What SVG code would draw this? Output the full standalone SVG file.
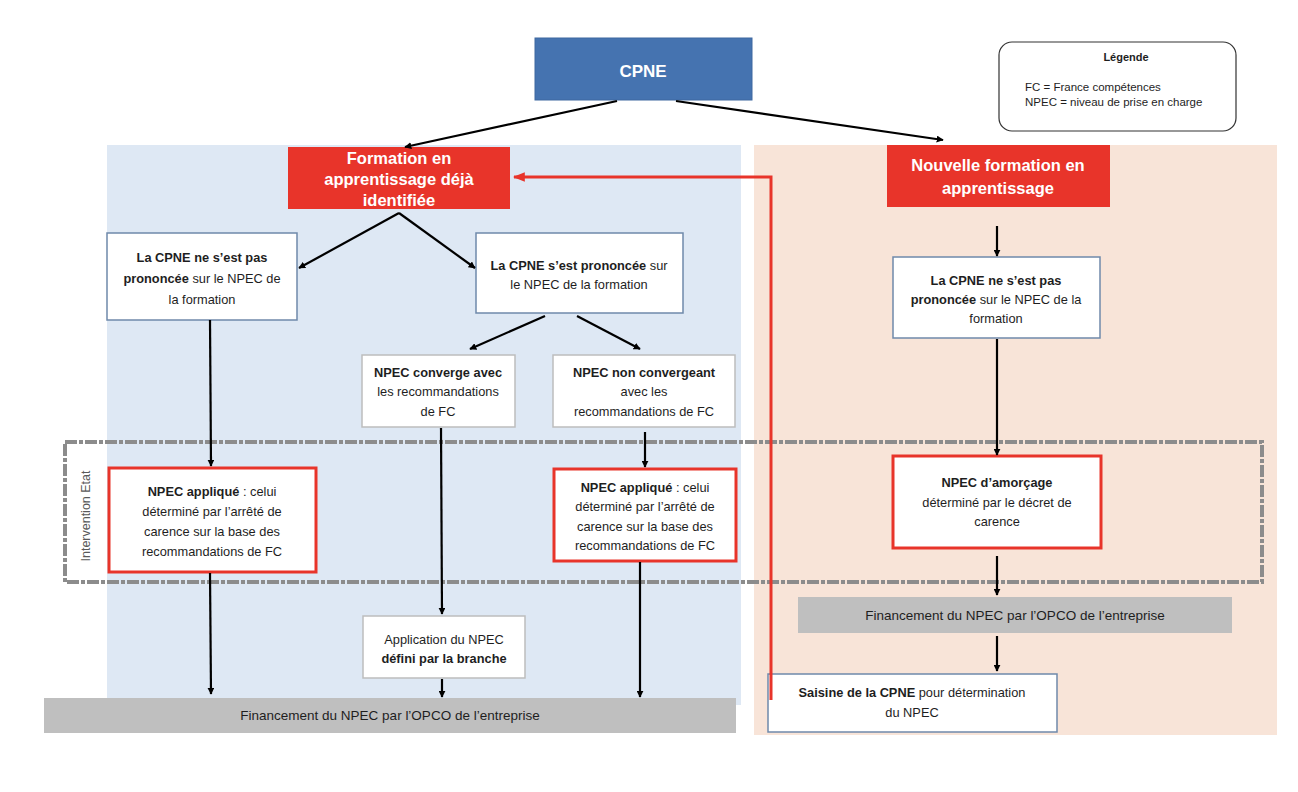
<svg xmlns="http://www.w3.org/2000/svg" width="1298" height="792" viewBox="0 0 1298 792">
<defs>
<marker id="ah" viewBox="0 0 10 10" refX="9" refY="5" markerWidth="7" markerHeight="7" markerUnits="userSpaceOnUse" orient="auto"><path d="M0,0 L10,5 L0,10 z" fill="#000"/></marker>
<marker id="ahr" viewBox="0 0 10 10" refX="9" refY="5" markerWidth="12" markerHeight="12" markerUnits="userSpaceOnUse" orient="auto"><path d="M0,1 L10,5 L0,9 z" fill="#e8342a"/></marker>
<style>
text{font-family:"Liberation Sans",Arial,sans-serif;fill:#1e1e1e;}
.t{font-size:12.8px;text-anchor:middle;}
.b{font-weight:bold;}
.w{fill:#fff;font-weight:bold;text-anchor:middle;font-size:16.5px;}
.box{fill:#fff;stroke:#6f89aa;stroke-width:1.5;}
.gbox{fill:#fff;stroke:#bdbdbd;stroke-width:1.5;}
.rbox{fill:#fff;stroke:#e8342a;stroke-width:3;}
.red{fill:#e8342a;}
.gray{fill:#bfbfbf;}
.g{font-size:13.5px;text-anchor:middle;}
.c{stroke:#000;stroke-width:2.2;fill:none;marker-end:url(#ah);}
</style>
</defs>
<rect width="1298" height="792" fill="#fff"/>
<g id="panels">
<rect x="107" y="145" width="634" height="560" fill="#dee8f4"/>
<rect x="754" y="145" width="523" height="590" fill="#f8e4d8"/>
</g>
<g id="legend">
<rect x="999" y="42" width="237" height="89" rx="13" fill="#fff" stroke="#333" stroke-width="1.2"/>
<text x="1126" y="61" class="b" font-size="11" text-anchor="middle">Légende</text>
<text x="1025" y="91" font-size="11.5">FC = France compétences</text>
<text x="1025" y="106" font-size="11.5">NPEC = niveau de prise en charge</text>
</g>
<g id="intervention">
<rect x="65" y="442" width="1197" height="140" fill="none" stroke="#8c8c8c" stroke-width="4" stroke-dasharray="12 2 4 2"/>
<text transform="translate(90,516) rotate(-90)" font-size="12.5" text-anchor="middle" style="fill:#595959">Intervention Etat</text>
</g>
<g id="cpne">
<rect x="535" y="38" width="217" height="62" fill="#4573b0" stroke="#3f68a0"/>
<text x="643" y="77" class="w" style="font-size:17px">CPNE</text>
</g>
<g id="formation">
<rect x="288" y="147" width="222" height="62" class="red"/>
<text x="399" y="164" class="w">Formation en</text>
<text x="399" y="185" class="w">apprentissage déjà</text>
<text x="399" y="206" class="w">identifiée</text>
</g>
<g id="nouvelle">
<rect x="887" y="145" width="223" height="62" class="red"/>
<text x="998" y="171" class="w">Nouvelle formation en</text>
<text x="998" y="194" class="w">apprentissage</text>
</g>
<g id="box1">
<rect x="107" y="233" width="190" height="87" class="box"/>
<text x="202" y="262" class="t b">La CPNE ne s’est pas</text>
<text x="202" y="283" class="t"><tspan class="b">prononcée</tspan> sur le NPEC de</text>
<text x="202" y="304" class="t">la formation</text>
</g>
<g id="box2">
<rect x="476" y="233" width="207" height="80" class="box"/>
<text x="579" y="270" class="t"><tspan class="b">La CPNE s’est prononcée</tspan> sur</text>
<text x="579" y="289" class="t">le NPEC de la formation</text>
</g>
<g id="converge">
<rect x="362" y="355" width="153" height="72" class="gbox"/>
<text x="438" y="377" class="t b">NPEC converge avec</text>
<text x="438" y="396" class="t">les recommandations</text>
<text x="438" y="416" class="t">de FC</text>
</g>
<g id="nonconverge">
<rect x="553" y="355" width="182" height="72" class="gbox"/>
<text x="644" y="377" class="t b">NPEC non convergeant</text>
<text x="644" y="396" class="t">avec les</text>
<text x="644" y="416" class="t">recommandations de FC</text>
</g>
<g id="box3">
<rect x="893" y="257" width="207" height="81" class="box"/>
<text x="996" y="285" class="t b">La CPNE ne s’est pas</text>
<text x="996" y="304" class="t"><tspan class="b">prononcée</tspan> sur le NPEC de la</text>
<text x="996" y="323" class="t">formation</text>
</g>
<g id="applique1">
<rect x="109" y="468" width="207" height="104" class="rbox"/>
<text x="212" y="496" class="t"><tspan class="b">NPEC appliqué</tspan> : celui</text>
<text x="212" y="516" class="t">déterminé par l’arrêté de</text>
<text x="212" y="536" class="t">carence sur la base des</text>
<text x="212" y="556" class="t">recommandations de FC</text>
</g>
<g id="applique2">
<rect x="554" y="469" width="182" height="92" class="rbox"/>
<text x="645" y="492" class="t"><tspan class="b">NPEC appliqué</tspan> : celui</text>
<text x="645" y="511" class="t">déterminé par l’arrêté de</text>
<text x="645" y="531" class="t">carence sur la base des</text>
<text x="645" y="550" class="t">recommandations de FC</text>
</g>
<g id="amorcage">
<rect x="893" y="456" width="208" height="92" class="rbox"/>
<text x="997" y="487" class="t b">NPEC d’amorçage</text>
<text x="997" y="507" class="t">déterminé par le décret de</text>
<text x="997" y="526" class="t">carence</text>
</g>
<g id="application">
<rect x="363" y="616" width="162" height="62" class="gbox"/>
<text x="444" y="644" class="t">Application du NPEC</text>
<text x="444" y="663" class="t b">défini par la branche</text>
</g>
<g id="financement-gauche">
<rect x="44" y="698" width="692" height="35" class="gray"/>
<text x="390" y="720" class="g">Financement du NPEC par l’OPCO de l’entreprise</text>
</g>
<g id="financement-droite">
<rect x="798" y="597" width="434" height="36" class="gray"/>
<text x="1015" y="620" class="g">Financement du NPEC par l’OPCO de l’entreprise</text>
</g>
<g id="saisine">
<rect x="768" y="674" width="289" height="58" class="box"/>
<text x="912" y="697" class="t"><tspan class="b">Saisine de la CPNE</tspan> pour détermination</text>
<text x="912" y="717" class="t">du NPEC</text>
</g>
<g id="connectors">
<line x1="617" y1="101" x2="405" y2="147" class="c"/>
<line x1="676" y1="101" x2="943" y2="140" class="c"/>
<line x1="399" y1="213" x2="299" y2="268" class="c"/>
<line x1="399" y1="213" x2="475" y2="268" class="c"/>
<line x1="210" y1="320" x2="211" y2="466" class="c"/>
<line x1="545" y1="316" x2="470" y2="349" class="c"/>
<line x1="577" y1="316" x2="640" y2="349" class="c"/>
<line x1="441" y1="428" x2="442" y2="614" class="c"/>
<line x1="645" y1="432" x2="645" y2="467" class="c"/>
<line x1="210" y1="573" x2="211" y2="694" class="c"/>
<line x1="442" y1="679" x2="442" y2="697" class="c"/>
<line x1="640" y1="562" x2="640" y2="697" class="c"/>
<line x1="997" y1="226" x2="997" y2="256" class="c"/>
<line x1="997" y1="339" x2="997" y2="455" class="c"/>
<line x1="997" y1="556" x2="997" y2="595" class="c"/>
<line x1="997" y1="636" x2="997" y2="671" class="c"/>
<polyline points="771,700 771,177 514,177" fill="none" stroke="#e8342a" stroke-width="3" marker-end="url(#ahr)"/>
</g>
</svg>
